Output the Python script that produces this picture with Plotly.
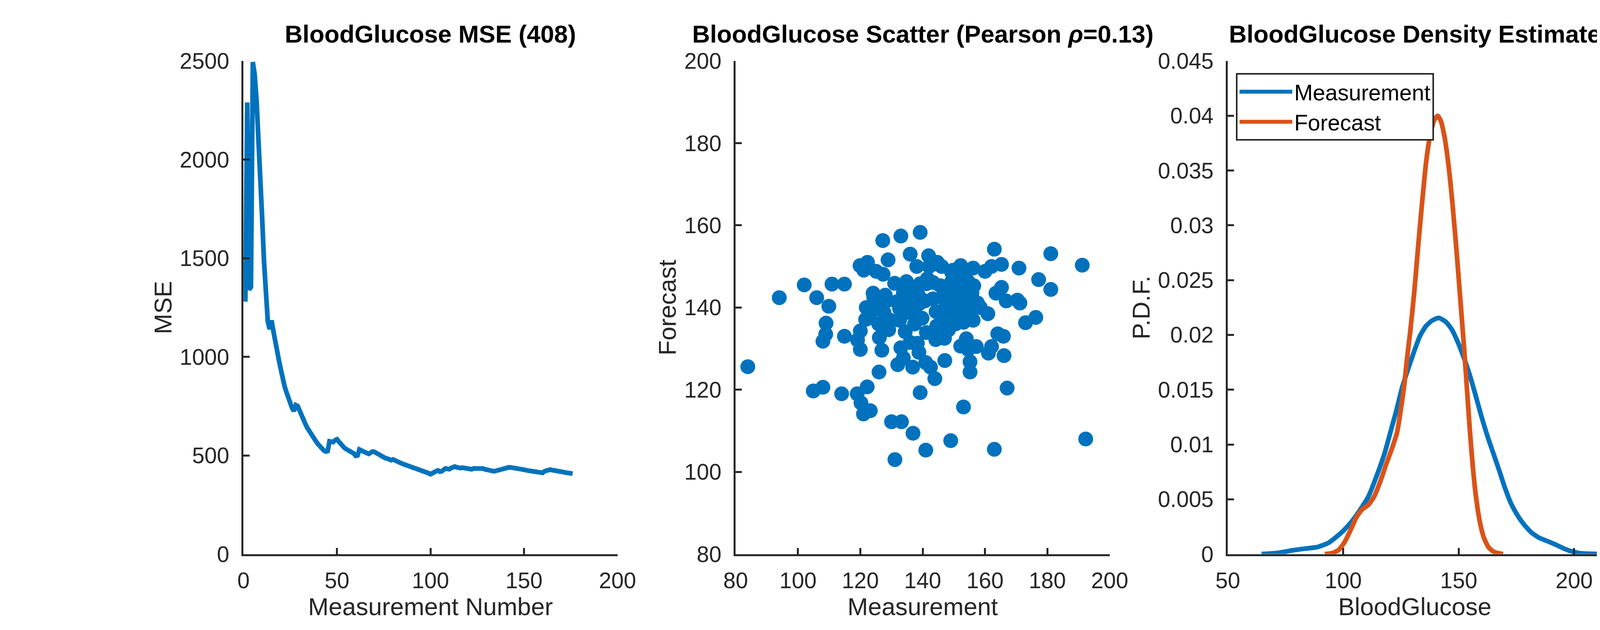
import plotly.graph_objects as go

# ---------------- data ----------------
mse_values = [
    1280, 2290, 1340, 1355, 2495, 2430, 2300, 2130, 1960, 1700,
    1480, 1300, 1180, 1140, 1185, 1130, 1070, 1030, 980, 935,
    885, 850, 820, 790, 765, 740, 725, 755, 750, 725,
    705, 680, 662, 642, 625, 608, 595, 580, 568, 556,
    544, 535, 525, 520, 522, 572, 570, 568, 578, 582,
    570, 558, 548, 538, 532, 528, 522, 516, 510, 498,
    500, 530, 524, 519, 514, 512, 508, 513, 520, 518,
    512, 506, 500, 494, 490, 486, 484, 478, 476, 480,
    474, 470, 466, 462, 458, 455, 452, 448, 445, 442,
    438, 435, 432, 428, 425, 422, 418, 414, 410, 405,
    408, 412, 420, 424, 418, 420, 430, 434, 432, 430,
    436, 440, 444, 440, 435, 436, 438, 436, 432, 430,
    432, 430, 434, 434, 436, 437, 438, 434, 430, 427,
    424, 421, 420, 420, 422, 425, 424, 428, 432, 434,
    438, 440, 439, 438, 437, 437, 436, 434, 432, 428,
    425, 424, 425, 424, 422, 420, 418, 416, 414, 412,
    420, 424, 427, 428, 426, 425, 424, 422, 420, 418,
    416, 414, 412, 410, 409, 408,
]
measurement_number = list(range(1, len(mse_values) + 1))

measurement_vals = [
    83.9, 94.0, 102.0, 106.0, 104.9, 108.0, 109.9, 110.9, 114.9, 109.0,
    108.9, 108.0, 114.9, 114.0, 119.0, 120.2, 121.0, 123.2, 122.2, 120.0,
    120.0, 119.1, 119.9, 121.1, 122.3, 121.9, 121.7, 124.1, 125.1, 127.2,
    128.9, 127.3, 126.0, 126.9, 126.1, 125.9, 126.7, 127.6, 129.1, 130.0,
    133.2, 131.1, 133.0, 131.0, 131.7, 132.6, 132.0, 133.8, 133.0, 136.0,
    134.8, 133.8, 135.0, 134.4, 136.8, 136.9, 139.2, 138.1, 139.2, 138.6,
    137.4, 138.3, 138.8, 139.2, 141.0, 141.9, 142.1, 141.2, 140.7, 141.2,
    141.0, 142.5, 144.2, 143.9, 143.3, 143.3, 144.3, 144.7, 146.1, 147.1,
    148.3, 146.3, 147.8, 146.9, 148.7, 149.0, 149.3, 150.5, 151.0, 149.8,
    152.2, 152.8, 152.6, 153.1, 152.2, 153.1, 154.0, 154.6, 155.2, 155.2,
    153.6, 154.8, 156.0, 156.2, 156.4, 156.2, 157.2, 157.6, 160.0, 160.9,
    161.1, 162.1, 162.1, 163.0, 163.0, 163.5, 164.1, 165.3, 165.3, 165.9,
    166.1, 167.1, 166.8, 170.9, 170.4, 171.2, 173.0, 176.3, 177.2, 181.1,
    181.1, 191.2, 192.3,
    149.3, 150.7, 150.5, 153.9, 151.6, 148.7, 147.5, 145.7, 154.6, 155.8,
    149.8, 152.8, 124.3, 125.4, 127.8, 129.6, 128.4, 132.6, 133.8, 135.6,
    135.6, 137.4, 139.8, 152.0, 148.0, 123.0, 129.0, 136.5, 144.5, 158.5,
    145.0, 141.5, 155.5, 128.0, 139.0, 150.5, 147.0, 136.0,
]
forecast_vals = [
    125.6, 142.4, 145.5, 142.4, 119.7, 120.6, 140.3, 145.7, 145.7, 136.2,
    133.5, 131.8, 133.0, 119.0, 119.0, 116.8, 114.1, 114.9, 120.7, 134.3,
    129.8, 132.1, 150.2, 149.1, 151.0, 140.0, 137.1, 143.5, 148.8, 156.3,
    151.6, 148.1, 124.3, 129.6, 132.7, 136.0, 141.1, 138.8, 134.6, 112.2,
    112.2, 103.0, 157.4, 145.9, 141.4, 136.9, 126.1, 127.7, 130.2, 153.0,
    146.3, 141.1, 138.8, 134.1, 125.5, 109.4, 158.3, 150.0, 145.8, 143.0,
    139.2, 131.3, 129.1, 119.3, 105.3, 152.6, 150.0, 145.8, 141.6, 133.9,
    126.6, 125.5, 132.2, 122.7, 146.1, 142.1, 139.0, 151.0, 150.0, 127.1,
    134.6, 136.4, 138.8, 143.5, 145.3, 107.6, 148.6, 147.2, 143.5, 141.1,
    150.2, 146.3, 140.7, 136.4, 130.6, 115.8, 132.4, 129.8, 126.8, 124.3,
    145.3, 143.0, 139.7, 136.9, 145.3, 149.6, 130.5, 141.1, 148.8, 138.5,
    128.9, 130.5, 150.0, 154.2, 105.5, 143.5, 133.6, 150.5, 144.9, 133.0,
    128.3, 120.4, 141.6, 149.6, 141.8, 141.1, 136.3, 137.6, 146.8, 153.1,
    144.4, 150.3, 108.0,
    146.3, 144.4, 141.6, 139.7, 138.8, 142.5, 141.1, 145.3, 146.3, 143.5,
    149.1, 149.1, 142.5, 139.7, 136.9, 136.9, 141.6, 139.7, 143.5, 142.5,
    145.3, 136.0, 137.4, 144.0, 139.5, 137.5, 135.0, 139.5, 135.5, 140.0,
    150.5, 147.0, 141.5, 143.0, 141.0, 136.0, 132.5, 131.5,
]

meas_kde_x = [64.6, 71.5, 78.3, 83.5, 88.6, 93.8, 97.2, 100.6, 104.1, 107.5,
              111.0, 114.4, 117.9, 120.4, 123.0, 125.5, 128.1, 130.7, 133.2, 135.8,
              138.4, 141.3, 144.4, 147.0, 149.5, 152.1, 154.7, 157.3, 159.8, 162.4,
              165.0, 167.6, 170.1, 172.7, 175.3, 177.9, 181.3, 184.7, 188.2, 191.6,
              195.0, 198.4, 201.9, 205.3, 211.8]
meas_kde_y = [0.0, 0.0001, 0.00035, 0.0005, 0.00063, 0.00105, 0.0016, 0.00225, 0.0031, 0.0041,
              0.0053, 0.0071, 0.0092, 0.0111, 0.0131, 0.0152, 0.0169, 0.0185, 0.0199, 0.0208,
              0.0213, 0.02155, 0.0212, 0.0205, 0.0194, 0.0180, 0.0164, 0.0145, 0.0126, 0.0108,
              0.0092, 0.0076, 0.0060, 0.0046, 0.0036, 0.0028, 0.0020, 0.0015, 0.0012, 0.0009,
              0.00056, 0.00028, 0.0001, 0.00004, 0.0]
fcst_kde_x = [92.0, 95.5, 98.1, 100.6, 103.2, 105.8, 108.3, 110.9, 113.5, 116.0,
              118.6, 121.2, 123.3, 125.0, 126.4, 127.6, 129.0, 130.7, 132.4, 134.2,
              135.9, 137.6, 139.4, 140.9, 142.3, 144.0, 145.8, 147.5, 149.2, 150.9,
              152.3, 153.7, 154.9, 156.1, 157.5, 159.2, 160.9, 163.0, 165.3, 169.2]
fcst_kde_y = [0.0, 0.0001, 0.0004, 0.0011, 0.0022, 0.0034, 0.0041, 0.0045, 0.0053, 0.0066,
              0.0082, 0.0097, 0.0111, 0.0133, 0.0154, 0.0178, 0.0203, 0.0238, 0.0280, 0.0322,
              0.0358, 0.0382, 0.0396, 0.0400, 0.0395, 0.0379, 0.0351, 0.0315, 0.0273, 0.0227,
              0.0189, 0.0147, 0.0111, 0.0080, 0.0052, 0.0029, 0.0015, 0.0006, 0.0002, 0.0]

mse_xticks = [0, 50, 100, 150, 200]
mse_yticks = [0, 500, 1000, 1500, 2000, 2500]
scatter_ticks = [80, 100, 120, 140, 160, 180, 200]
pdf_xticks = [50, 100, 150, 200]

titles = ["BloodGlucose MSE (408)",
          "BloodGlucose Scatter (Pearson <i>ρ</i>=0.13)",
          "BloodGlucose Density Estimate"]

# ---------------- style ----------------
BLUE = "#0072BD"
ORANGE = "#D95319"
AX = "#262626"
FONT = "Liberation Sans, Arial, Helvetica, sans-serif"
TICK_SIZE = 57
LABEL_SIZE = 63
LW = 12

domains = [[0.1300, 0.3434], [0.4108, 0.6242], [0.6916, 0.9050]]
ydom = [0.11, 0.925]

fig = go.Figure()

fig.add_trace(go.Scatter(x=measurement_number, y=mse_values, mode="lines",
                         line=dict(color=BLUE, width=LW), showlegend=False,
                         xaxis="x", yaxis="y"))
fig.add_trace(go.Scatter(x=measurement_vals, y=forecast_vals, mode="markers",
                         marker=dict(color=BLUE, size=38, line=dict(width=0)),
                         showlegend=False, xaxis="x2", yaxis="y2"))
fig.add_trace(go.Scatter(x=meas_kde_x, y=meas_kde_y, mode="lines", name="Measurement",
                         line=dict(color=BLUE, width=LW, shape="spline", smoothing=0.6),
                         xaxis="x3", yaxis="y3"))
fig.add_trace(go.Scatter(x=fcst_kde_x, y=fcst_kde_y, mode="lines", name="Forecast",
                         line=dict(color=ORANGE, width=LW, shape="spline", smoothing=0.6),
                         xaxis="x3", yaxis="y3"))


def axis_common():
    return dict(showline=True, linecolor=AX, linewidth=5, ticks="inside",
                ticklen=16, tickwidth=5, tickcolor=AX, mirror=False,
                showgrid=False, zeroline=False,
                tickfont=dict(family=FONT, size=TICK_SIZE, color=AX),
                title_font=dict(family=FONT, size=LABEL_SIZE, color=AX))


XSTAND = 12
YSTAND = 2
xa = []
ya = []
xa.append(dict(domain=domains[0], range=[0, 200], tickvals=mse_xticks,
               title=dict(text="Measurement Number", standoff=XSTAND), anchor="y",
               ticklabelstandoff=14))
ya.append(dict(domain=ydom, range=[0, 2500], tickvals=mse_yticks,
               title=dict(text="MSE", standoff=YSTAND), anchor="x",
               ticklabelstandoff=20))
xa.append(dict(domain=domains[1], range=[80, 200], tickvals=scatter_ticks,
               title=dict(text="Measurement", standoff=XSTAND), anchor="y2",
               ticklabelstandoff=14))
ya.append(dict(domain=ydom, range=[80, 200], tickvals=scatter_ticks,
               title=dict(text="Forecast", standoff=YSTAND), anchor="x2",
               ticklabelstandoff=20))
xa.append(dict(domain=domains[2], range=[50, 212], tickvals=pdf_xticks,
               title=dict(text="BloodGlucose", standoff=XSTAND), anchor="y3",
               ticklabelstandoff=14))
ya.append(dict(domain=ydom, range=[0, 0.045], dtick=0.005, tick0=0,
               title=dict(text="P.D.F.", standoff=YSTAND), anchor="x3",
               ticklabelstandoff=20))

layout = dict(
    width=4567, height=1613, autosize=False,
    margin=dict(l=0, r=0, t=0, b=0),
    paper_bgcolor="white", plot_bgcolor="white",
    font=dict(family=FONT, color=AX),
    legend=dict(x=0.6963, y=0.905, xanchor="left", yanchor="top",
                bgcolor="white", bordercolor=AX, borderwidth=4,
                font=dict(family=FONT, size=TICK_SIZE, color="#000000"),
                itemwidth=135, tracegroupgap=0),
)
for i in range(3):
    sx = "" if i == 0 else str(i + 1)
    d = axis_common(); d.update(xa[i]); layout["xaxis" + sx] = d
    d = axis_common(); d.update(ya[i]); layout["yaxis" + sx] = d

annotations = []
for i, t in enumerate(titles):
    annotations.append(dict(text="<b>" + t + "</b>", xref="paper", yref="paper",
                            x=(domains[i][0] + domains[i][1]) / 2, y=ydom[1],
                            xanchor="center", yanchor="bottom", yshift=32,
                            showarrow=False,
                            font=dict(family=FONT, size=LABEL_SIZE, color="#000000")))
layout["annotations"] = annotations

fig.update_layout(**layout)
fig.write_html("out.html")
